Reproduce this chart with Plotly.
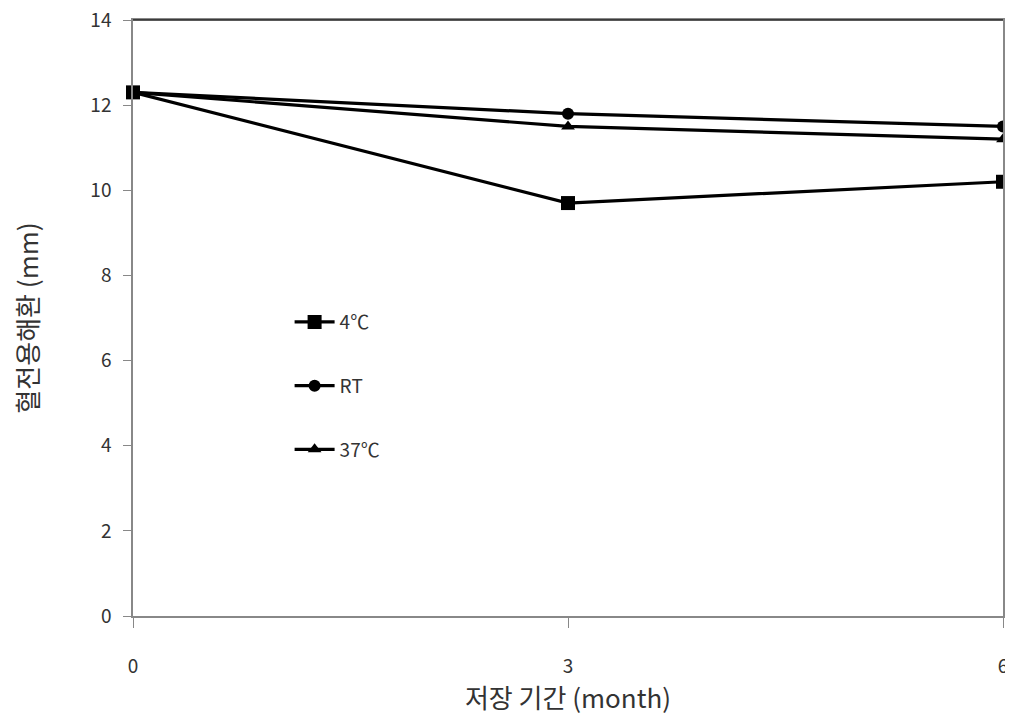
import plotly.graph_objects as go

months = [0, 3, 6]
series_names = ["4℃", "RT", "37℃"]
vals_4c = [12.3, 9.7, 10.2]
vals_rt = [12.3, 11.8, 11.5]
vals_37c = [12.3, 11.5, 11.2]
y_ticks = [0, 2, 4, 6, 8, 10, 12, 14]
x_ticks = [0, 3, 6]

symbols = ["square", "circle", "triangle-up"]
sizes = [14, 12, 12]

fig = go.Figure()
for i, (name, vals) in enumerate(zip(series_names, [vals_4c, vals_rt, vals_37c])):
    fig.add_trace(go.Scatter(
        x=months, y=vals, name=name, mode="lines+markers",
        line=dict(color="black", width=3.2),
        marker=dict(symbol=symbols[i], size=sizes[i], color="black"),
        cliponaxis=False, legendgroup=name,
    ))

FONT = "Noto Sans CJK KR"
tickfont = dict(family=FONT, size=19, color="#333")
fig.update_layout(
    width=1005, height=709,
    margin=dict(l=125, r=10, t=12, b=101),
    paper_bgcolor="white", plot_bgcolor="white",
    showlegend=True,
    legend=dict(x=0.18, y=0.525, xanchor="left", yanchor="top",
                bgcolor="rgba(0,0,0,0)", tracegroupgap=36,
                font=dict(family=FONT, size=19, color="#333"),
                itemwidth=40),
    xaxis=dict(range=[0, 6], tickvals=x_ticks, ticks="outside", ticklen=10,
               tickcolor="#888", linecolor="#888", linewidth=1.5, mirror=True,
               showgrid=False, zeroline=False, tickfont=tickfont,
               ticklabelstandoff=22, automargin=False, ticklabeloverflow="allow",
               title=dict(text="저장 기간 (month)", standoff=0,
                          font=dict(family=FONT, size=26, color="#333"))),
    yaxis=dict(range=[0, 14], tickvals=y_ticks, ticks="outside", ticklen=8,
               tickcolor="#888", linecolor="#888", linewidth=1.5, mirror=True,
               showgrid=False, zeroline=False, tickfont=tickfont,
               ticklabelstandoff=8, automargin=False, ticklabeloverflow="allow",
               title=dict(text="혈전용해환 (mm)", standoff=55,
                          font=dict(family=FONT, size=26, color="#333"))),
    shapes=[dict(type="line", xref="paper", yref="paper", x0=0, x1=1, y0=1, y1=1,
                 line=dict(color="#222", width=1.5), layer="above")],
)
fig.write_html("out.html")
